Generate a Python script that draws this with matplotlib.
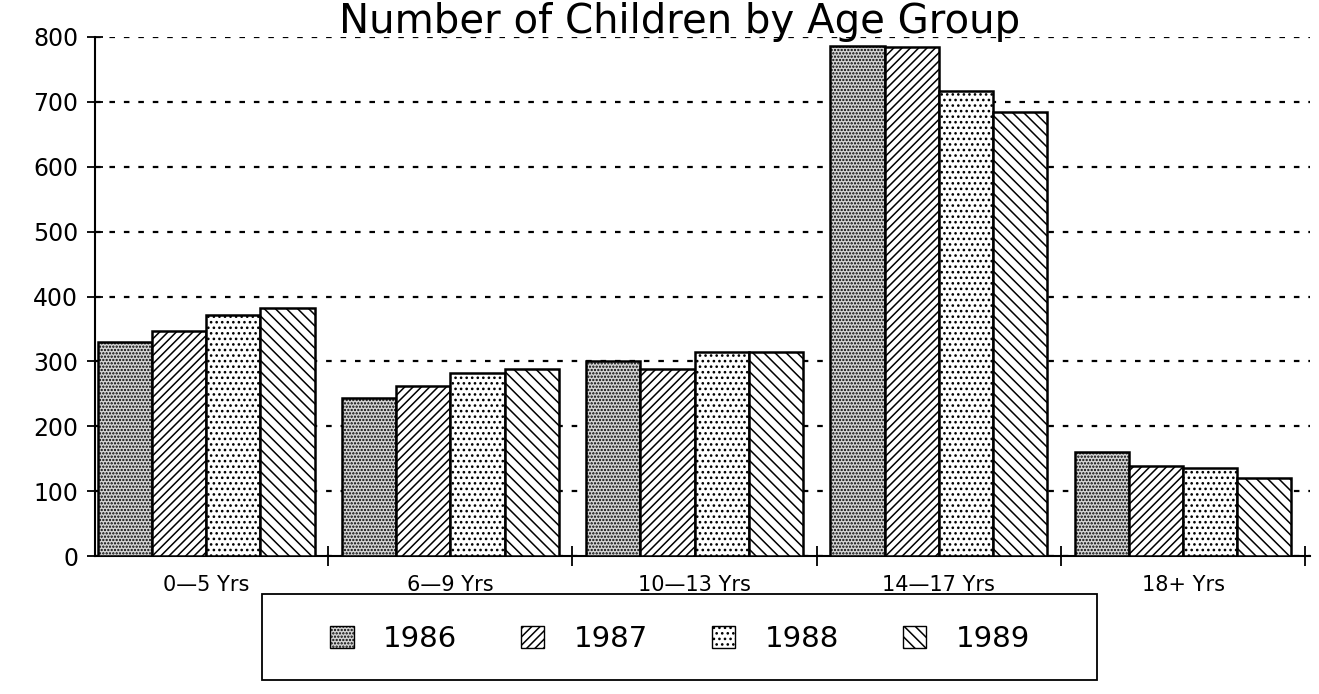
import numpy as np
import matplotlib.pyplot as plt
from matplotlib.patches import Rectangle

groups = ['0\u20145 Yrs', '6\u20149 Yrs', '10\u201413 Yrs', '14\u201417 Yrs', '18+ Yrs']
years = ['1986', '1987', '1988', '1989']
v1986 = [330, 243, 300, 786, 160]
v1987 = [347, 262, 288, 785, 138]
v1988 = [371, 282, 314, 717, 135]
v1989 = [382, 289, 314, 685, 120]

plt.rcParams['hatch.linewidth'] = 1.1

W, H = 1319, 694
fig = plt.figure(figsize=(W / 100, H / 100), dpi=100)
ax = fig.add_axes([95 / W, 1 - 556 / H, (1310 - 95) / W, (556 - 37) / H])

x = np.arange(len(groups))
w = 0.222
styles = [('#d4d4d4', '.....'), ('white', '////'), ('white', '...'), ('white', '\\\\\\')]
series = [v1986, v1987, v1988, v1989]
for i, vals in enumerate(series):
    fc, h = styles[i]
    ax.bar(x + (i - 1.5) * w, vals, w, color=fc, hatch=h, edgecolor='black',
           linewidth=1.8, label=years[i], zorder=3)

ax.set_xlim(-0.455, 4.52)
ax.set_ylim(0, 800)
ax.set_yticks(range(0, 900, 100))
ax.set_xticks(np.arange(0.5, 5, 1.0))
ax.set_xticklabels([])
ax.set_xticks(x, minor=True)
ax.set_xticklabels(groups, minor=True, fontsize=15)
ax.tick_params(axis='x', which='minor', length=0, pad=14)
ax.tick_params(axis='x', which='major', direction='inout', length=14, width=1.3)
ax.tick_params(axis='y', direction='inout', length=12, width=1.3, labelsize=17, pad=6)

for s in ['top', 'right']:
    ax.spines[s].set_visible(False)
ax.spines['left'].set_linewidth(1.5)
ax.spines['bottom'].set_linewidth(1.5)

ax.yaxis.grid(True, linestyle=(0, (2.5, 4)), color='black', linewidth=1.6, zorder=0)
ax.set_axisbelow(True)

fig.text(0.515, 1 - 2 / H, 'Number of Children by Age Group', ha='center', va='top',
         fontsize=29, color='black')

leg = fig.legend(loc='center', bbox_to_anchor=(680 / W, 1 - 639 / H), ncol=4,
                 fontsize=21, frameon=False,
                 handlelength=0.8, handleheight=0.8, columnspacing=2.2,
                 handletextpad=1.0, borderaxespad=0)
for p in leg.get_patches():
    p.set_linewidth(1.0)

fig.patches.append(Rectangle((262 / W, 1 - 680 / H), (1097 - 262) / W, 86 / H,
                             transform=fig.transFigure, fill=False,
                             edgecolor='black', linewidth=1.3))

fig.savefig('out.png', dpi=100)
